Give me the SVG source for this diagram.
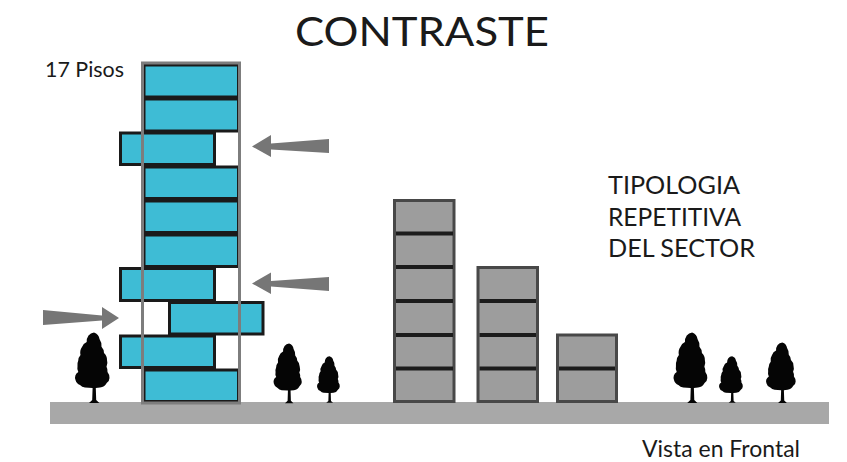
<svg xmlns="http://www.w3.org/2000/svg" width="847" height="462" viewBox="0 0 847 462">
<style>
text{font-family:"Lato","Liberation Sans",sans-serif;fill:#1a1a1a}
.b{fill:#3ebcd5;stroke:#1a1a1a;stroke-width:3}
.g{fill:#9d9d9d;stroke:#484848;stroke-width:3}
.d{stroke:#1c1c1c;stroke-width:4;fill:none}
.f{fill:none;stroke:#7d7d7d;stroke-width:3}
.a{fill:#767676}
</style>
<defs>
<path id="tree" fill="#050505" d="M19 .5A8 8 0 0 1 24.500 7A12 12 0 0 1 26.500 14.700A9 9 0 0 1 29 21A9 9 0 0 1 32 28A9 9 0 0 1 31.500 34.700A9 9 0 0 1 32.500 40A9 9 0 0 1 34.500 46A6 6 0 0 1 31.700 51A8 8 0 0 1 25 55.500L20.800 56L21.200 68L24.300 71L14 71L17.200 68L17.600 56L10 55.500A7 7 0 0 1 5 53A7 7 0 0 1 .5 48A7 7 0 0 1 3.300 40A9 9 0 0 1 2.500 34A9 9 0 0 1 3.200 28.700A9 9 0 0 1 5.500 23A10 10 0 0 1 7 15A8 8 0 0 1 11.700 10A10 10 0 0 1 13.500 3.500A8 8 0 0 1 19 .5Z"/>
</defs>
<g id="ground"><rect x="50" y="402" width="779" height="22" fill="#a8a8a8"/></g>
<g id="title"><text x="295" y="46" font-size="40" textLength="254" lengthAdjust="spacingAndGlyphs">CONTRASTE</text></g>
<g id="label-pisos"><text x="45" y="77" font-size="21" textLength="79" lengthAdjust="spacingAndGlyphs">17 Pisos</text></g>
<g id="label-tipologia" font-size="25">
<text x="608" y="194" textLength="132" lengthAdjust="spacingAndGlyphs">TIPOLOGIA</text>
<text x="608" y="226" textLength="133" lengthAdjust="spacingAndGlyphs">REPETITIVA</text>
<text x="608" y="257" textLength="147" lengthAdjust="spacingAndGlyphs">DEL SECTOR</text>
</g>
<g id="label-vista"><text x="642" y="457" font-size="23" textLength="158" lengthAdjust="spacingAndGlyphs">Vista en Frontal</text></g>
<g id="blue-tower">
<rect class="b" x="144" y="65" width="94.500" height="32"/>
<rect class="b" x="144" y="99" width="94.500" height="32"/>
<rect class="b" x="120.500" y="133" width="94" height="31.500"/>
<rect class="b" x="144" y="167" width="94.500" height="31.500"/>
<rect class="b" x="144" y="201" width="94.500" height="31.500"/>
<rect class="b" x="144" y="235" width="94.500" height="31.500"/>
<rect class="b" x="120.500" y="268.500" width="94" height="32"/>
<rect class="b" x="169.500" y="302.500" width="93.500" height="31.500"/>
<rect class="b" x="120.500" y="336" width="94" height="31.500"/>
<rect class="b" x="144" y="370" width="94.500" height="31.500"/>
<rect class="f" x="142.500" y="63" width="97" height="340"/>
</g>
<g id="grey-tower-1">
<rect class="g" x="394.500" y="200.500" width="59.500" height="201"/>
<path class="d" d="M396 233.500H453M396 267H453M396 301H453M396 335H453M396 368.500H453"/>
</g>
<g id="grey-tower-2">
<rect class="g" x="478" y="267.500" width="59.500" height="134"/>
<path class="d" d="M479.500 301H536M479.500 335H536M479.500 368.500H536"/>
</g>
<g id="grey-tower-3">
<rect class="g" x="557.500" y="335" width="59" height="66.500"/>
<path class="d" d="M559 368.500H615"/>
</g>
<g id="connectors">
<polygon class="a" points="252,146.500 271,135 271,143.500 329,139 329,153 271,149.500 271,157"/>
<polygon class="a" points="252,283.500 271,272.500 271,281 329,277 329,291 271,286.500 271,294"/>
<polygon class="a" points="119,318 102,307 102,315.500 43,310 43,325 102,320.500 102,329"/>
</g>
<g id="tree-1"><use href="#tree" transform="translate(75 332)"/></g>
<g id="tree-2"><use href="#tree" transform="translate(273.500 343) scale(.82 .85)"/></g>
<g id="tree-3"><use href="#tree" transform="translate(317 356) scale(.66 .66)"/></g>
<g id="tree-4"><use href="#tree" transform="translate(673.500 332) scale(.98 1)"/></g>
<g id="tree-5"><use href="#tree" transform="translate(719 356) scale(.69 .66)"/></g>
<g id="tree-6"><use href="#tree" transform="translate(766 342) scale(.86 .86)"/></g>
</svg>
